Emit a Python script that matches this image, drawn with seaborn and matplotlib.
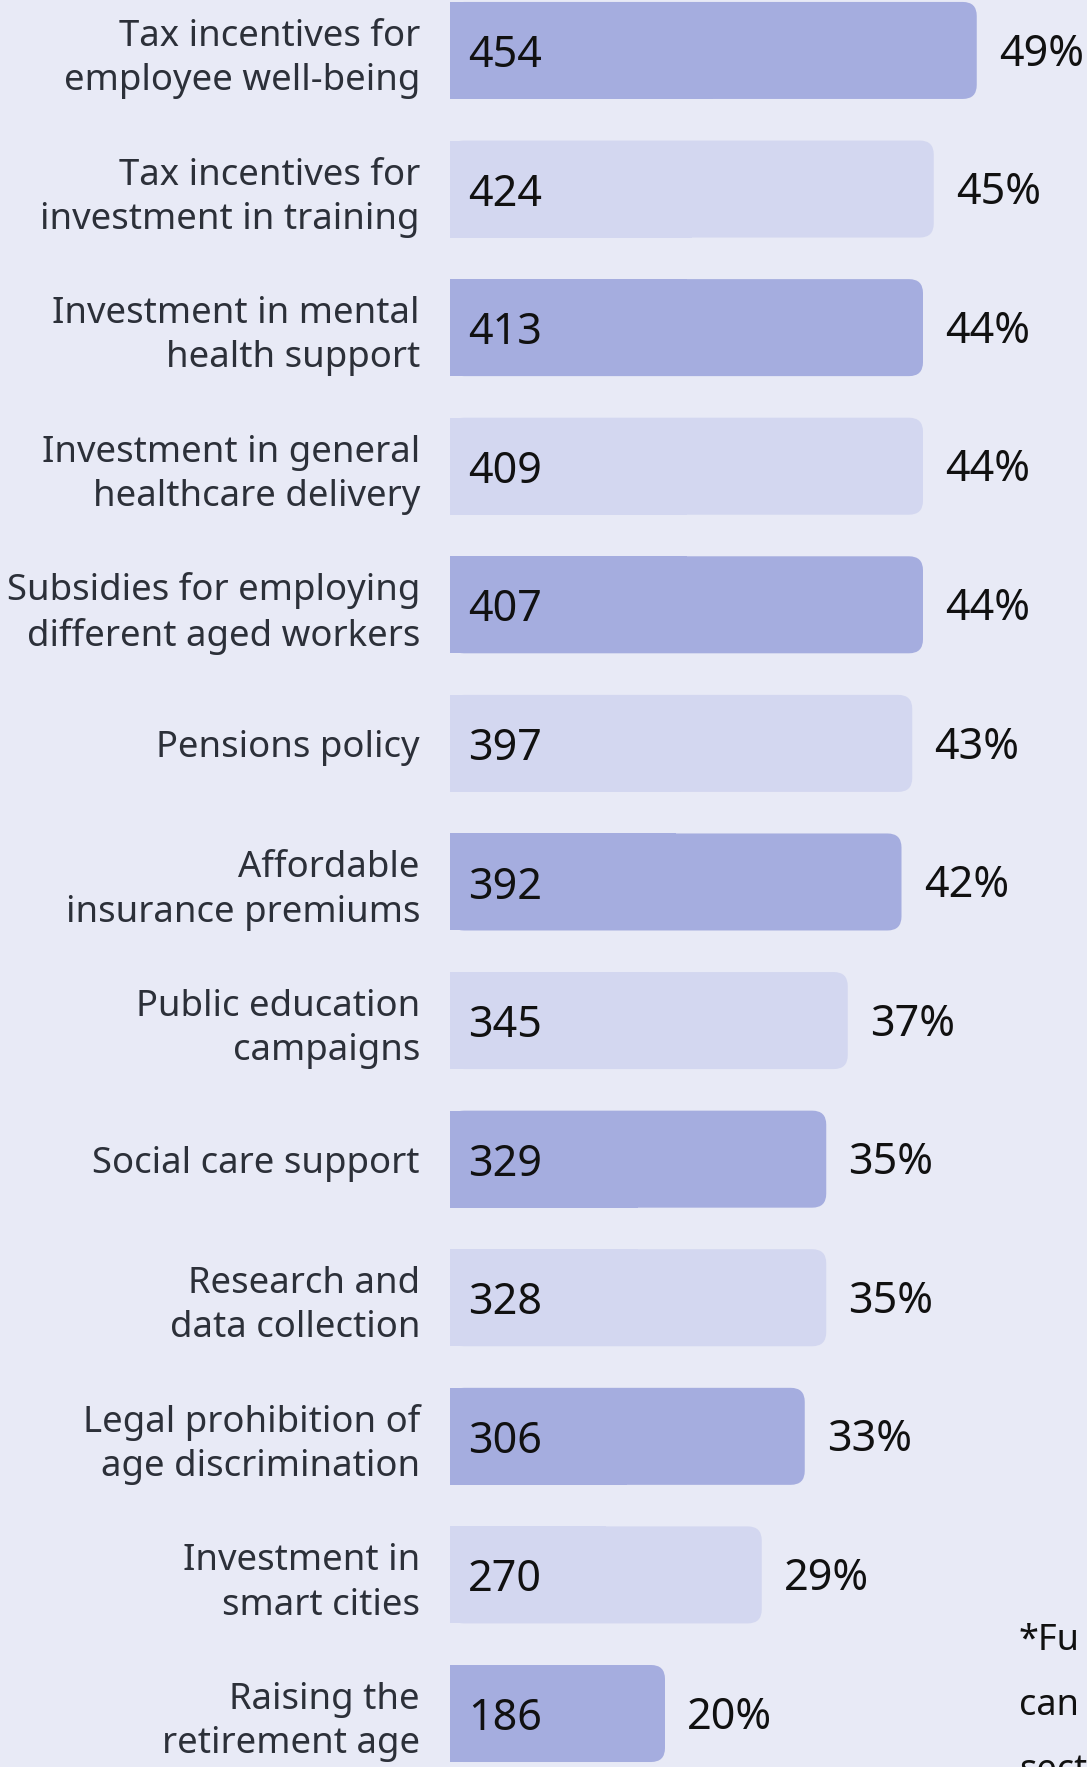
import matplotlib
matplotlib.use("Agg")
import matplotlib.pyplot as plt
from matplotlib.patches import FancyBboxPatch, Rectangle
import seaborn as sns
import pandas as pd

# data
categories = [
    "Tax incentives for\nemployee well-being",
    "Tax incentives for\ninvestment in training",
    "Investment in mental\nhealth support",
    "Investment in general\nhealthcare delivery",
    "Subsidies for employing\ndifferent aged workers",
    "Pensions policy",
    "Affordable\ninsurance premiums",
    "Public education\ncampaigns",
    "Social care support",
    "Research and\ndata collection",
    "Legal prohibition of\nage discrimination",
    "Investment in\nsmart cities",
    "Raising the\nretirement age",
]
counts = [454, 424, 413, 409, 407, 397, 392, 345, 329, 328, 306, 270, 186]
shares = [49, 45, 44, 44, 44, 43, 42, 37, 35, 35, 33, 29, 20]
footnote_lines = ["*Fu", "can", "sect"]

BG = "#E8EAF6"
DARK = "#A5ADDF"
LIGHT = "#D3D7F0"
bar_colors = [DARK if i % 2 == 0 else LIGHT for i in range(len(categories))]

sns.set_theme(style="white")
plt.rcParams['font.family'] = ['Noto Sans', 'DejaVu Sans']

W, H = 1087, 1767
fig = plt.figure(figsize=(W / 100, H / 100), dpi=100, facecolor=BG)
ax_left = 450 / W
ax = fig.add_axes([ax_left, 0, 1 - ax_left, 1])
ax.set_facecolor(BG)

df = pd.DataFrame({"label": categories, "share": shares, "count": counts})
sns.barplot(data=df, x="share", y="label", hue="label", palette=bar_colors,
            legend=False, width=0.7, saturation=1, orient="h", ax=ax)

px_per_unit = 10.75
ax.set_xlim(0, (W - 450) / px_per_unit)
ax.set_ylim(12.386, -0.364)
for s in ax.spines.values():
    s.set_visible(False)
ax.set_xticks([])
ax.set_xlabel("")
ax.set_ylabel("")
ax.tick_params(axis="y", length=0, pad=21.6, labelsize=26.3, labelcolor="#2C3039")
for t in ax.get_yticklabels():
    t.set_multialignment("right")
    t.set_linespacing(1.3)
    t.set_va("center_baseline")

# rounded right corners
x_px = px_per_unit
y_px = H / (12.386 + 0.364)
radius = 14 / x_px
aspect = x_px / y_px
for p in list(ax.patches):
    x0, y0, w, h = p.get_x(), p.get_y(), p.get_width(), p.get_height()
    fc = p.get_facecolor()
    p.set_visible(False)
    ax.add_patch(FancyBboxPatch((x0, y0), w, h,
                                boxstyle=f"round,pad=0,rounding_size={radius}",
                                mutation_aspect=aspect, fc=fc, ec="none"))
    ax.add_patch(Rectangle((x0, y0), w / 2, h, fc=fc, ec="none"))

for i, (c, s) in enumerate(zip(counts, shares)):
    ax.annotate(str(c), xy=(0, i), xytext=(13, -4), textcoords="offset points",
                va="center", ha="left", fontsize=31, color="#111111")
    ax.annotate(f"{s}%", xy=(s, i), xytext=(16, -3), textcoords="offset points",
                va="center", ha="left", fontsize=31, color="#111111")

for k, line in enumerate(footnote_lines):
    fig.text(1019 / W, 1 - (1650 + 65 * k) / H, line, ha="left", va="baseline",
             fontsize=26, color="#111111")

fig.savefig("out.png", dpi=100, facecolor=BG)
